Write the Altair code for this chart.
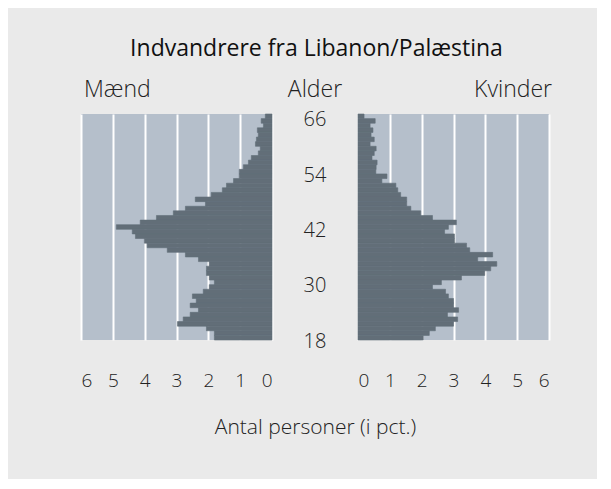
import altair as alt
import pandas as pd

# ages from top (66) to bottom (18)
ages = list(range(66, 17, -1))
men = [0.21, 0.34, 0.27, 0.46, 0.43, 0.49, 0.52, 0.37, 0.43, 0.65,
       0.74, 0.90, 1.03, 1.03, 1.21, 1.43, 1.56, 1.91, 2.41, 2.09,
       2.72, 3.10, 3.63, 4.14,
       4.89, 4.39, 4.29, 4.01, 3.92, 3.29, 2.72, 2.31, 1.97, 2.06,
       2.06, 1.97, 1.81, 1.97, 2.16, 2.50, 2.38, 2.57, 2.31, 2.57,
       2.79, 2.97, 2.06, 1.81, 1.81]
women = [0.19, 0.54, 0.38, 0.47, 0.41, 0.51, 0.38, 0.57, 0.51, 0.44,
         0.60, 0.57, 0.56, 0.91, 0.75, 1.19, 1.25, 1.34, 1.53, 1.53,
         1.66, 1.97, 2.34, 3.09,
         2.84, 2.72, 3.03, 3.03, 3.41, 3.51, 4.23, 3.76, 4.36, 4.17,
         3.98, 3.25, 2.62, 2.34, 2.75, 2.84, 3.00, 3.00, 3.16, 2.81,
         3.13, 3.00, 2.43, 2.24, 2.05]
age_ticks = [18, 30, 42, 54, 66]
x_ticks = [0, 1, 2, 3, 4, 5, 6]

df = pd.DataFrame({"age": ages, "men": men, "women": women})
df["lo"] = df["age"] - 0.5
df["hi"] = df["age"] + 0.5
df["zero"] = 0.0
lab = pd.DataFrame({"age": age_ticks, "mid": [0.0] * len(age_ticks)})

H = 226
W = 191
WM = 86
BG = "#eaeaea"
PANEL = "#b5bfcb"
BAR = "#626e78"
TXT = "#222222"
FONT = "Open Sans"

yscale = alt.Scale(domain=[17.5, 66.5], nice=False, zero=False)


def xaxis():
    return alt.Axis(values=x_ticks, format="d", title=None, grid=True,
                    gridColor="white", gridWidth=2, gridOpacity=1,
                    ticks=False, tickSize=0, domain=False, labelPadding=31,
                    labelFontSize=19, labelFont=FONT, labelColor=TXT,
                    labelFontWeight=300, labelBaseline="top")


def sub_title(text, anchor, offset=12, dx=0):
    return alt.TitleParams(text, anchor=anchor, frame="group", fontSize=23,
                           font=FONT, fontWeight=300, color=TXT, offset=offset, dx=dx)


left = alt.Chart(df).mark_rect(color=BAR, stroke=BAR, strokeWidth=0.6).encode(
    x=alt.X("men:Q", scale=alt.Scale(domain=[0, 6], reverse=True, nice=False), axis=xaxis()),
    x2="zero:Q",
    y=alt.Y("lo:Q", scale=yscale, axis=None),
    y2="hi:Q",
).properties(width=W, height=H, title=sub_title("Mænd", "start", dx=3),
             view=alt.ViewBackground(fill=PANEL, strokeWidth=0))

right = alt.Chart(df).mark_rect(color=BAR, stroke=BAR, strokeWidth=0.6).encode(
    x=alt.X("women:Q", scale=alt.Scale(domain=[0, 6], nice=False), axis=xaxis()),
    x2="zero:Q",
    y=alt.Y("lo:Q", scale=yscale, axis=None),
    y2="hi:Q",
).properties(width=W, height=H, title=sub_title("Kvinder", "end", dx=3),
             view=alt.ViewBackground(fill=PANEL, strokeWidth=0))

mid = alt.Chart(lab).mark_text(fontSize=20, font=FONT, fontWeight=300, color=TXT,
                               baseline="middle", dy=4).encode(
    x=alt.X("mid:Q", scale=alt.Scale(domain=[-1, 1]),
            axis=alt.Axis(title="Antal personer (i pct.)", labels=False, ticks=False,
                          tickSize=0, domain=False, grid=False, titlePadding=76,
                          titleFontSize=21, titleFont=FONT, titleFontWeight=300,
                          titleColor=TXT)),
    y=alt.Y("age:Q", scale=yscale, axis=None),
    text=alt.Text("age:Q", format="d"),
).properties(width=WM, height=H, title=sub_title("Alder", "middle", offset=8))

chart = alt.hconcat(left, mid, right, spacing=0, bounds="flush").properties(
    title=alt.TitleParams("Indvandrere fra Libanon/Palæstina", anchor="middle",
                          fontSize=23, font=FONT, fontWeight=500, color="#111111",
                          offset=18),
    background=BG,
    padding={"left": 73, "top": 29, "right": 45, "bottom": 42},
).configure_view(strokeWidth=0)

chart.save("out.html", embed_options={"renderer": "svg", "actions": False})
